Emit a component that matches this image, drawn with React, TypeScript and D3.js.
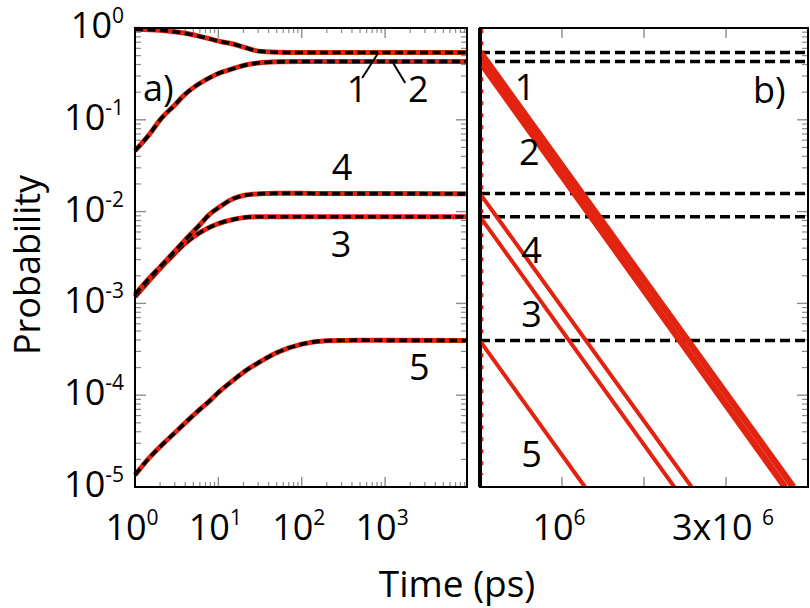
import * as d3 from "d3";

// ---- data ----
// panel a) time grid (ps), log axis
const timesA = [1, 1.5, 2, 3, 4, 6, 8, 10, 15, 20, 30, 50, 100, 200, 500, 1000, 9600];

const state1 = [0.97, 0.96, 0.945, 0.91, 0.875, 0.81, 0.76, 0.72, 0.67, 0.62, 0.56, 0.545, 0.54, 0.54, 0.54, 0.54, 0.54];
const state2 = [0.046, 0.07, 0.1, 0.145, 0.19, 0.25, 0.29, 0.32, 0.36, 0.39, 0.415, 0.428, 0.432, 0.432, 0.432, 0.432, 0.432];
const state3 = [0.00118, 0.0018, 0.0024, 0.0035, 0.0045, 0.0059, 0.0068, 0.0074, 0.0082, 0.0086, 0.0088, 0.0088, 0.0088, 0.0088, 0.0088, 0.0088, 0.0088];
const state4 = [0.00125, 0.0019, 0.0025, 0.0037, 0.0049, 0.0072, 0.0095, 0.011, 0.0138, 0.015, 0.0156, 0.0158, 0.0158, 0.0157, 0.0157, 0.0157, 0.0156];
const state5 = [1.35e-5, 2.1e-5, 2.75e-5, 3.9e-5, 5.0e-5, 7.0e-5, 8.8e-5, 1.07e-4, 1.45e-4, 1.78e-4, 2.25e-4, 2.9e-4, 3.6e-4, 3.93e-4, 3.98e-4, 3.96e-4, 3.95e-4];
const seriesA = [state1, state2, state3, state4, state5];

// panel b) plateau levels (dashed) and exponential decays (straight on log-lin)
const plateaus = [0.54, 0.432, 0.0157, 0.0088, 3.95e-4];
const decayStartP = [0.55, 0.43, 0.0157, 0.0088, 3.9e-4]; // at t = 0
const decayEndT = [3.82e6, 3.72e6, 2.58e6, 2.37e6, 1.28e6]; // t where P hits 1e-5
const decayWidth = [6.5, 6.5, 4, 4, 4];

// tick labels
const xTicksA = [1, 10, 100, 1000];
const xTicksB = [1e6, 2e6, 3e6];
const xLabelsB = [
  { v: 1e6, base: "10", sup: "6" },
  { v: 3e6, base: "3x10 ", sup: "6" },
];
const yTicks = [1e-5, 1e-4, 1e-3, 1e-2, 1e-1, 1];

// annotations in data coords
const notesA = [
  { t: 1.25, p: 0.16, text: "a)", anchor: "start" },
  { t: 460, p: 0.156, text: "1", anchor: "middle" },
  { t: 2500, p: 0.156, text: "2", anchor: "middle" },
  { t: 305, p: 0.022, text: "4", anchor: "middle" },
  { t: 297, p: 0.0032, text: "3", anchor: "middle" },
  { t: 2570, p: 1.46e-4, text: "5", anchor: "middle" },
];
const leadersA = [
  [{ t: 531, p: 0.285 }, { t: 826, p: 0.534 }],
  [{ t: 1742, p: 0.252 }, { t: 1250, p: 0.416 }],
];
const notesB = [
  { t: 3.33e6, p: 0.153, text: "b)", anchor: "start" },
  { t: 0.55e6, p: 0.164, text: "1", anchor: "middle" },
  { t: 0.6e6, p: 0.032, text: "2", anchor: "middle" },
  { t: 0.63e6, p: 0.00275, text: "4", anchor: "middle" },
  { t: 0.63e6, p: 5.5e-4, text: "3", anchor: "middle" },
  { t: 0.63e6, p: 1.65e-5, text: "5", anchor: "middle" },
];

const RED = "#e2230f";
const TICK = "#8c8c8c";
const FONT = "'Open Sans', 'Noto Sans', sans-serif";

export default function App() {
  const top = 28;
  const bottom = 487;
  const xA = d3.scaleLog().domain([1, 9600]).range([135, 467]);
  const xB = d3.scaleLinear().domain([0, 4e6]).range([480, 808]);
  const y = d3.scaleLog().domain([1e-5, 1]).range([bottom, top]);

  const lineA = d3
    .line<number>()
    .x((_, i) => xA(timesA[i]))
    .y((d) => y(d))
    .curve(d3.curveMonotoneX);

  // minor ticks
  const minorX: number[] = [];
  xTicksA.forEach((d) => {
    for (let k = 2; k <= 9; k++) if (d * k < 9600) minorX.push(d * k);
  });
  const minorY: number[] = [];
  yTicks.slice(0, -1).forEach((d) => {
    for (let k = 2; k <= 9; k++) minorY.push(d * k);
  });

  const yTickMarks = (x0: number, dir: number, key: string) => (
    <g key={key}>
      {yTicks.map((d) => (
        <line key={"M" + d} x1={x0} x2={x0 + dir * 11} y1={y(d)} y2={y(d)} stroke={TICK} strokeWidth={1.4} />
      ))}
      {minorY.map((d) => (
        <line key={"m" + d} x1={x0} x2={x0 + dir * 6} y1={y(d)} y2={y(d)} stroke={TICK} strokeWidth={1.2} />
      ))}
    </g>
  );

  return (
    <svg width={810} height={608} style={{ position: "absolute", left: 0, top: 0, background: "#fff" }} fontFamily={FONT}>
      {/* ---------- panel a ---------- */}
      {[bottom, top].map((yy, j) => (
        <g key={"xa" + j}>
          {xTicksA.map((d) => (
            <line key={d} x1={xA(d)} x2={xA(d)} y1={yy} y2={yy + (j ? 10 : -10)} stroke={TICK} strokeWidth={1.4} />
          ))}
          {minorX.map((d) => (
            <line key={"m" + d} x1={xA(d)} x2={xA(d)} y1={yy} y2={yy + (j ? 5 : -5)} stroke={TICK} strokeWidth={1.2} />
          ))}
        </g>
      ))}
      {yTickMarks(xA.range()[0], 1, "ya0")}
      {yTickMarks(xA.range()[1], -1, "ya1")}

      {seriesA.map((s, i) => (
        <g key={"s" + i}>
          <path d={lineA(s) ?? ""} fill="none" stroke={RED} strokeWidth={5} />
          <path d={lineA(s) ?? ""} fill="none" stroke="#000" strokeWidth={3.6} strokeDasharray="8 4.5" />
        </g>
      ))}

      {leadersA.map((l, i) => (
        <line key={"ld" + i} x1={xA(l[0].t)} y1={y(l[0].p)} x2={xA(l[1].t)} y2={y(l[1].p)} stroke="#000" strokeWidth={2} />
      ))}

      <rect x={xA.range()[0]} y={top} width={xA.range()[1] - xA.range()[0]} height={bottom - top} fill="none" stroke="#000" strokeWidth={2} />

      {/* ---------- panel b ---------- */}
      {[bottom, top].map((yy, j) => (
        <g key={"xb" + j}>
          {xTicksB.map((d) => (
            <line key={d} x1={xB(d)} x2={xB(d)} y1={yy} y2={yy + (j ? 10 : -10)} stroke={TICK} strokeWidth={1.4} />
          ))}
        </g>
      ))}
      {yTickMarks(xB.range()[1], -1, "yb1")}

      <defs>
        <clipPath id="clipB">
          <rect x={xB.range()[0]} y={top} width={xB.range()[1] - xB.range()[0]} height={bottom - top} />
        </clipPath>
      </defs>
      <g clipPath="url(#clipB)">
        {plateaus.map((p, i) => (
          <line key={"pl" + i} x1={xB(0)} x2={xB.range()[1]} y1={y(p)} y2={y(p)} stroke="#000" strokeWidth={3.5} strokeDasharray="10 5" />
        ))}
        {decayStartP.map((p, i) => (
          <line key={"dc" + i} x1={xB(0)} y1={y(p)} x2={xB(decayEndT[i])} y2={y(1e-5)} stroke={RED} strokeWidth={decayWidth[i]} />
        ))}
      </g>
      <rect x={xB.range()[0]} y={top} width={xB.range()[1] - xB.range()[0]} height={bottom - top} fill="none" stroke="#000" strokeWidth={2} />
      {/* early-time curves squeezed onto t = 0 */}
      <line x1={xB(0)} x2={xB(0)} y1={y(1)} y2={y(1e-5)} stroke="#000" strokeWidth={4} />
      <line x1={xB(0) + 2.5} x2={xB(0) + 2.5} y1={y(0.97)} y2={y(1.35e-5)} stroke={RED} strokeWidth={1.8} strokeDasharray="4 8" />

      {/* ---------- tick labels ---------- */}
      {xTicksA.map((d, i) => (
        <text key={"lxa" + d} x={xA(d) - 3} y={540} textAnchor="middle" fontSize={36}>
          10<tspan fontSize={21} dy={-15}>{i}</tspan>
        </text>
      ))}
      {xLabelsB.map((l) => (
        <text key={"lxb" + l.v} x={xB(l.v) - 3} y={540} textAnchor="middle" fontSize={36} style={{ whiteSpace: "pre" }}>
          {l.base}
          <tspan fontSize={21} dy={-15}>{l.sup}</tspan>
        </text>
      ))}
      {yTicks.map((d) => (
        <text key={"ly" + d} x={124} y={y(d) + 10} textAnchor="end" fontSize={36}>
          10<tspan fontSize={21} dy={-15}>{String(Math.round(Math.log10(d)))}</tspan>
        </text>
      ))}

      {/* ---------- annotations ---------- */}
      {notesA.map((n, i) => (
        <text key={"na" + i} x={xA(n.t)} y={y(n.p)} textAnchor={n.anchor} fontSize={36}>
          {n.text}
        </text>
      ))}
      {notesB.map((n, i) => (
        <text key={"nb" + i} x={xB(n.t)} y={y(n.p)} textAnchor={n.anchor} fontSize={36}>
          {n.text}
        </text>
      ))}

      {/* ---------- axis titles ---------- */}
      <text x={457} y={597} textAnchor="middle" fontSize={37}>
        Time (ps)
      </text>
      <text transform="translate(40,265) rotate(-90)" textAnchor="middle" fontSize={36}>
        Probability
      </text>
    </svg>
  );
}
